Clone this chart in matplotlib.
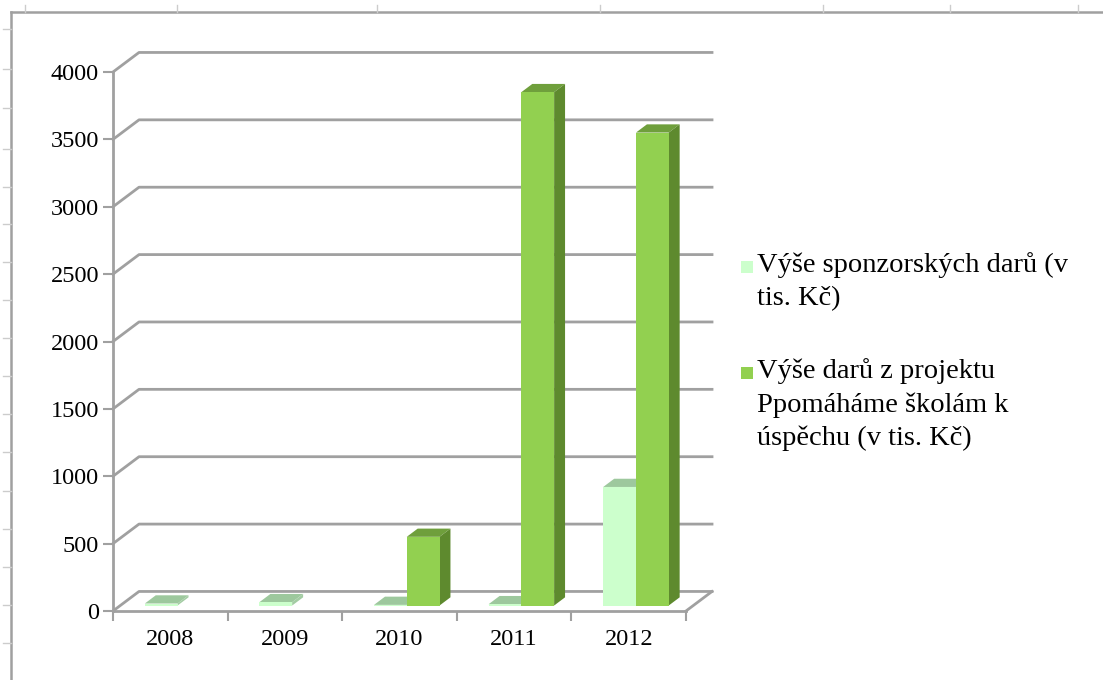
import matplotlib
matplotlib.use("Agg")
import matplotlib.pyplot as plt
from matplotlib.patches import Polygon, Rectangle
from matplotlib.lines import Line2D

# ---------- data ----------
roky = ["2008", "2009", "2010", "2011", "2012"]
sponzorske = [15, 25, 5, 10, 880]          # Výše sponzorských darů (tis. Kč)
projekt = [None, None, 510, 3810, 3510]    # Výše darů z projektu (tis. Kč)
nazvy = ["Výše sponzorských darů (v\ntis. Kč)",
         "Výše darů z projektu\nPpomáháme školám k\núspěchu (v tis. Kč)"]
yticks = list(range(0, 4001, 500))

# okraj "listu" Excelu (jen dekorace)
horni_znacky = [25, 177, 377, 600, 823, 950, 1078]
leve_znacky = [29, 69, 108, 149, 187, 224, 262, 300, 338, 376, 414, 452, 491, 529, 567, 605, 643]

plt.rcParams["font.family"] = ["Liberation Serif", "DejaVu Serif"]
W, H = 1103, 680
fig = plt.figure(figsize=(W / 100, H / 100), dpi=100)
fig.patch.set_facecolor("white")

def fx(px): return px / W
def fy(py): return 1 - py / H

ax = fig.add_axes([fx(113), fy(611), fx(686) - fx(113), fy(72) - fy(611)])
ax.set_xlim(0, 5); ax.set_ylim(0, 4000)
ax.patch.set_visible(False)

grid_c = "#a0a0a0"
dx, dy = 0.227, 145          # hloubka podlahy v datových jednotkách
f0, f1 = 0.28, 0.70          # hloubka sloupce
w = 1 / 3.5                  # šířka sloupce, mezera 150 %

for v in yticks:
    ax.plot([0, dx, 5 + dx], [v, v + dy, v + dy], color=grid_c, lw=2, clip_on=False, zorder=1)
ax.plot([5, 5 + dx], [0, dy], color=grid_c, lw=2, clip_on=False, zorder=1)

barvy = [("#ccffcc", "#a3cca3", "#9dc89d"), ("#92d050", "#5e8a2e", "#6f9f3c")]

def sloupec(x0, v, c):
    a, b = x0 + f0 * dx, x0 + w + f0 * dx
    a1, b1 = x0 + f1 * dx, x0 + w + f1 * dx
    z0, z1 = f0 * dy, f1 * dy
    ax.add_patch(Polygon([(a, v + z0), (b, v + z0), (b1, v + z1), (a1, v + z1)], closed=True,
                         fc=c[2], ec="none", zorder=3, clip_on=False))
    ax.add_patch(Polygon([(b, z0), (b1, z1), (b1, v + z1), (b, v + z0)], closed=True,
                         fc=c[1], ec="none", zorder=3, clip_on=False))
    ax.add_patch(Polygon([(a, z0), (b, z0), (b, v + z0), (a, v + z0)], closed=True,
                         fc=c[0], ec="none", zorder=3, clip_on=False))

for i in range(len(roky)):
    x0 = i + 0.75 * w
    for s, vals in enumerate([sponzorske, projekt]):
        if vals[i] is not None:
            sloupec(x0 + s * w, vals[i], barvy[s])

for side in ["top", "right"]:
    ax.spines[side].set_visible(False)
for side in ["left", "bottom"]:
    ax.spines[side].set_color(grid_c); ax.spines[side].set_linewidth(2)
ax.set_yticks(yticks)
ax.tick_params(axis="y", direction="out", length=7, width=1.5, color=grid_c, labelsize=17.5, pad=3)
ax.set_xticks(range(6)); ax.set_xticklabels([])
ax.set_xticks([i + 0.5 for i in range(5)], minor=True)
ax.set_xticklabels(roky, minor=True)
ax.tick_params(axis="x", which="major", direction="out", length=7, width=1.5, color=grid_c)
ax.tick_params(axis="x", which="minor", length=0, labelsize=17.5, pad=13)

# legenda
leg_y = [252, 358]
for s in range(2):
    fig.add_artist(Rectangle((fx(741), fy(leg_y[s] + 21)), fx(12), fy(0) - fy(12),
                             transform=fig.transFigure, fc=barvy[s][0], ec="none"))
    fig.text(fx(757), fy(leg_y[s]), nazvy[s], fontsize=20.5, va="top", ha="left", linespacing=1.42)

# okraj
fig.add_artist(Line2D([fx(11), fx(W)], [fy(12), fy(12)], color=grid_c, lw=1.8, transform=fig.transFigure))
fig.add_artist(Line2D([fx(11), fx(11)], [fy(12), fy(H)], color=grid_c, lw=1.8, transform=fig.transFigure))
for x in horni_znacky:
    fig.add_artist(Line2D([fx(x), fx(x)], [fy(5), fy(12)], color="#cccccc", lw=1, transform=fig.transFigure))
for y in leve_znacky:
    fig.add_artist(Line2D([fx(3), fx(11)], [fy(y), fy(y)], color="#cccccc", lw=1, transform=fig.transFigure))

fig.savefig("out.png", dpi=100)
